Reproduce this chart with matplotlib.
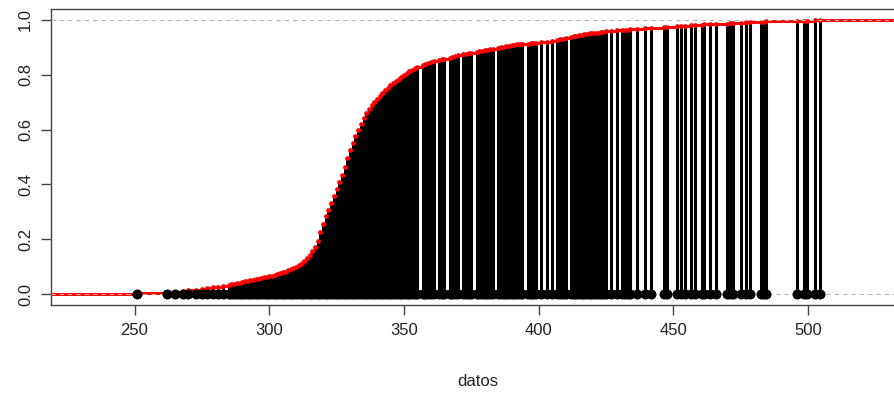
import numpy as np
import matplotlib.pyplot as plt

plt.rcParams['font.family'] = ['Liberation Sans', 'DejaVu Sans']

# valores distintos de los datos y su frecuencia acumulada (ecdf)
valores = [251, 262, 265, 268, 270, 273, 275, 277, 279, 281, 283, 285,
           286, 287, 288, 289, 290, 291, 292, 293, 294, 295, 296, 297, 298, 299, 300,
           301, 302, 303, 304, 305, 306, 307, 308, 309, 310,
           311, 312, 313, 314, 315, 316, 317, 318, 319, 320,
           321, 322, 323, 324, 325, 326, 327, 328, 329, 330,
           331, 332, 333, 334, 335, 336, 337, 338, 339, 340,
           341, 342, 343, 344, 345, 346, 347, 348, 349, 350,
           351, 352, 353, 354, 355, 357, 358, 359, 360, 361,
           363, 364, 365, 367, 368, 369, 370, 372, 373, 374, 375,
           377, 378, 379, 380, 381, 382, 383, 385, 386, 387, 388, 389, 390,
           391, 392, 393, 394, 396, 397, 398, 399, 401, 403, 405,
           407, 408, 409, 410, 412, 413, 414, 415, 416, 417, 418, 419, 420,
           421, 422, 423, 424, 425, 427, 429, 431, 432, 433, 434,
           436.5, 439.5, 441.8, 446.5, 447.5, 451.2, 453, 454.5, 456.5, 458.2,
           460.5, 461.5, 463.6, 466, 470, 471, 472, 475.3, 477, 478.5,
           482.5, 483.5, 484.5, 495.8, 498.5, 499.5, 502.5, 504.5]

acumulada = [0.002, 0.005, 0.008, 0.011, 0.013, 0.016, 0.019, 0.021, 0.024, 0.027, 0.030, 0.034,
             0.036, 0.038, 0.040, 0.042, 0.044, 0.046, 0.048, 0.050, 0.052, 0.054, 0.056, 0.058, 0.061, 0.063, 0.065,
             0.067, 0.070, 0.073, 0.076, 0.079, 0.082, 0.086, 0.090, 0.095, 0.100,
             0.106, 0.113, 0.121, 0.131, 0.143, 0.157, 0.173, 0.195, 0.225, 0.255,
             0.283, 0.307, 0.333, 0.358, 0.383, 0.408, 0.434, 0.465, 0.496, 0.526,
             0.552, 0.577, 0.600, 0.621, 0.641, 0.660, 0.675, 0.689, 0.702, 0.713,
             0.723, 0.733, 0.743, 0.753, 0.762, 0.770, 0.778, 0.786, 0.793, 0.800,
             0.806, 0.812, 0.818, 0.824, 0.829, 0.834, 0.838, 0.842, 0.846, 0.849,
             0.853, 0.856, 0.859, 0.862, 0.865, 0.868, 0.871, 0.874, 0.877, 0.879, 0.881,
             0.883, 0.885, 0.887, 0.889, 0.891, 0.893, 0.895, 0.898, 0.900, 0.902, 0.904, 0.906, 0.908,
             0.910, 0.911, 0.912, 0.913, 0.914, 0.915, 0.916, 0.917, 0.919, 0.921, 0.923,
             0.926, 0.929, 0.932, 0.935, 0.938, 0.940, 0.942, 0.944, 0.946, 0.948, 0.950, 0.951, 0.952,
             0.953, 0.954, 0.955, 0.957, 0.958, 0.960, 0.962, 0.963, 0.964, 0.965, 0.966,
             0.968, 0.970, 0.972, 0.974, 0.975, 0.977, 0.978, 0.979, 0.980, 0.981,
             0.983, 0.984, 0.985, 0.986, 0.987, 0.988, 0.989, 0.990, 0.991, 0.992,
             0.993, 0.994, 0.995, 0.996, 0.997, 0.998, 0.999, 1.000]

x = np.array(valores)
F = np.array(acumulada)

fig = plt.figure(figsize=(8.94, 3.94), dpi=100)
ax = fig.add_axes([51/894, 89/394, (905-51)/894, (305-9)/394])

xmin, xmax = 219, 536

# lineas verticales desde cero hasta la ecdf
ax.vlines(x, 0, F, color='black', lw=2.2, zorder=2)

# ecdf en rojo (tramos horizontales + puntos)
x_ini = np.concatenate([[xmin], x])
x_fin = np.concatenate([x, [xmax]])
niveles = np.concatenate([[0], F])
ax.hlines(niveles, x_ini, x_fin, color='red', lw=2.1, zorder=3)
ax.plot(x, F, 'o', color='red', ms=3.4, mec='none', zorder=3)

ax.axhline(0, color='#b3b3b3', lw=0.75, ls=(0, (4, 4)), zorder=4)
ax.axhline(1, color='#b3b3b3', lw=0.75, ls=(0, (4, 4)), zorder=4)

# puntos negros en cero
ax.plot(x, np.zeros_like(x), 'o', color='black', ms=7.2, mec='none', zorder=5)

ax.set_xlim(xmin, xmax)
ax.set_ylim(-0.04, 1.04)
ax.set_xticks([250, 300, 350, 400, 450, 500])
ax.set_yticks([0.0, 0.2, 0.4, 0.6, 0.8, 1.0])
ax.set_yticklabels(['0.0', '0.2', '0.4', '0.6', '0.8', '1.0'], rotation=90, va='center')
ax.tick_params(labelsize=12, length=7, width=1, color='#444444', labelcolor='#222222', pad=6)
for s in ax.spines.values():
    s.set_color('#444444')
    s.set_linewidth(1)

ax.set_xlabel('datos', fontsize=12, color='#222222', labelpad=26)

plt.savefig('out.png', dpi=100)
